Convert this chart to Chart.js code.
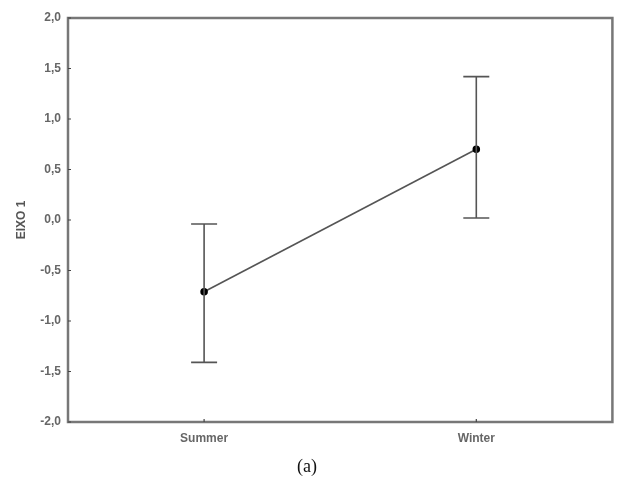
<!DOCTYPE html>
<html lang="pt">
<head>
<meta charset="UTF-8">
<title>EIXO 1 - Summer vs Winter</title>
<style>
body {margin:0; background:#fff;}
#wrap {position:relative; width:618px; height:480px;}
canvas {position:absolute; left:0; top:0;}
#caption {position:absolute; left:0; width:614px; top:456px; text-align:center; font-family:"Liberation Serif","Times New Roman",serif; font-size:18px; color:#111;}
</style>
</head>
<body>
<div id="wrap">
<canvas id="chart" width="618" height="480"></canvas>
<div id="caption">(a)</div>
</div>
<script src="https://cdn.jsdelivr.net/npm/chart.js"></script>
<script>
// estações e médias do eixo 1 com intervalo (barras de erro)
const seasons = ['Summer', 'Winter'];
const means = [-0.71, 0.70];
const lower = [-1.41, 0.02];
const upper = [-0.04, 1.42];
const yTicks = [-2, -1.5, -1, -0.5, 0, 0.5, 1, 1.5, 2];

const axisGrey = '#777';

// barras de erro, moldura e marcas de escala internas
const extras = {
  id: 'extras',
  afterDatasetsDraw(chart) {
    const {ctx, chartArea: a, scales: {x, y}} = chart;
    ctx.save();
    // barras de erro
    ctx.strokeStyle = '#555';
    ctx.lineWidth = 1.6;
    seasons.forEach((s, i) => {
      const px = x.getPixelForValue(i);
      const yl = y.getPixelForValue(lower[i]);
      const yu = y.getPixelForValue(upper[i]);
      ctx.beginPath();
      ctx.moveTo(px, yl); ctx.lineTo(px, yu);
      ctx.moveTo(px - 13, yl); ctx.lineTo(px + 13, yl);
      ctx.moveTo(px - 13, yu); ctx.lineTo(px + 13, yu);
      ctx.stroke();
    });
    // moldura
    ctx.strokeStyle = axisGrey;
    ctx.lineWidth = 2.5;
    ctx.strokeRect(a.left, a.top, a.right - a.left, a.bottom - a.top);
    // marcas internas
    ctx.lineWidth = 1.2;
    ctx.strokeStyle = '#444';
    ctx.beginPath();
    yTicks.forEach(v => {
      const py = y.getPixelForValue(v);
      ctx.moveTo(a.left, py); ctx.lineTo(a.left + 3, py);
    });
    seasons.forEach((s, i) => {
      const px = x.getPixelForValue(i);
      ctx.moveTo(px, a.bottom); ctx.lineTo(px, a.bottom - 3);
    });
    ctx.stroke();
    ctx.restore();
  }
};

new Chart(document.getElementById('chart'), {
  type: 'line',
  data: {
    labels: seasons,
    datasets: [{
      data: means,
      borderColor: '#555',
      borderWidth: 1.6,
      pointRadius: 3,
      pointBackgroundColor: '#000',
      pointBorderColor: '#000',
      tension: 0
    }]
  },
  options: {
    responsive: false,
    animation: false,
    layout: {padding: {left: 0, right: 5, top: 18, bottom: 0}},
    plugins: {legend: {display: false}, tooltip: {enabled: false}},
    scales: {
      x: {
        offset: true,
        grid: {display: false, drawTicks: false},
        border: {display: false},
        ticks: {color: '#666', font: {family: 'Arial', size: 12, weight: 'bold'}, padding: 9},
        afterFit: s => { s.height = 58; }
      },
      y: {
        min: -2, max: 2,
        afterBuildTicks: s => { s.ticks = yTicks.map(v => ({value: v})); },
        grid: {display: false, drawTicks: false},
        border: {display: false},
        ticks: {
          color: '#666', padding: 7,
          font: {family: 'Arial', size: 12, weight: 'bold'},
          callback: v => v.toFixed(1).replace('.', ',')
        },
        title: {display: true, text: 'EIXO 1', color: '#555', font: {family: 'Arial', size: 12, weight: 'bold'}, padding: {top: 14, bottom: 0}},
        afterFit: s => { s.width = 68; }
      }
    }
  },
  plugins: [extras]
});
</script>
</body>
</html>
